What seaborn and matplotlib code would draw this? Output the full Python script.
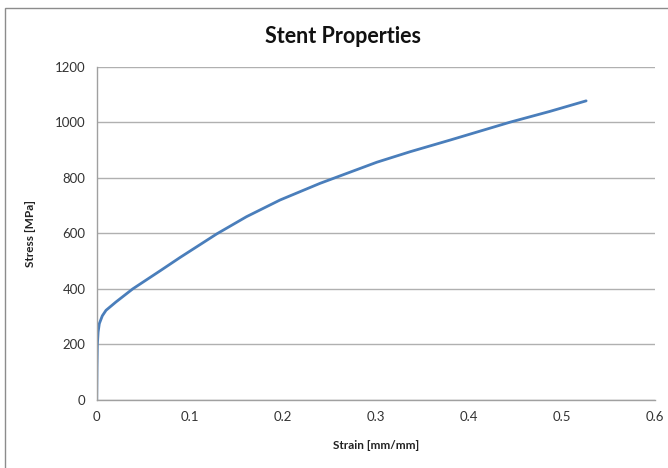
import matplotlib
matplotlib.use("Agg")
import matplotlib.pyplot as plt
from matplotlib.patches import Rectangle
import seaborn as sns
import pandas as pd

# values
strain = [0, 0.0003, 0.0007, 0.0015, 0.0028, 0.006, 0.010, 0.0207, 0.0387,
          0.069, 0.0895, 0.129, 0.161, 0.197, 0.240, 0.301, 0.337, 0.380,
          0.405, 0.444, 0.487, 0.526]
stress = [0, 120, 200, 245, 275, 303, 323, 353, 400,
          467, 513, 598, 660, 720, 780, 856, 894, 936,
          961, 1000, 1039, 1077]

x_ticks = [0, 0.1, 0.2, 0.3, 0.4, 0.5, 0.6]
x_labels = ["0", "0.1", "0.2", "0.3", "0.4", "0.5", "0.6"]
y_ticks = [0, 200, 400, 600, 800, 1000, 1200]
y_labels = ["0", "200", "400", "600", "800", "1000", "1200"]

sns.set_style("white")
plt.rcParams['font.family'] = ['Lato', 'DejaVu Sans']

df = pd.DataFrame({'Strain': strain, 'Stress': stress})

fig = plt.figure(figsize=(6.68, 4.68), dpi=100)
ax = fig.add_axes([0.1448, 0.1453, 0.9805 - 0.1448, 0.8575 - 0.1453])

sns.lineplot(data=df, x='Strain', y='Stress', sort=False, estimator=None,
             color='#4A7EBB', linewidth=2.0, ax=ax)

ax.set_xlim(0, 0.6)
ax.set_ylim(0, 1200)
ax.set_xticks(x_ticks, x_labels)
ax.set_yticks(y_ticks, y_labels)
ax.tick_params(length=0, labelsize=9.5, labelcolor='#333333', pad=8)
ax.yaxis.grid(True, color='#b0b0b0', linewidth=1)
ax.xaxis.grid(False)
for side in ['top', 'right']:
    ax.spines[side].set_visible(False)
for side in ['left', 'bottom']:
    ax.spines[side].set_color('#a0a0a0')
    ax.spines[side].set_linewidth(1)

ax.set_xlabel('Strain [mm/mm]', fontsize=8.5, fontweight='bold', color='#222222', labelpad=12)
ax.set_ylabel('Stress [MPa]', fontsize=8.5, fontweight='bold', color='#222222', labelpad=14)
fig.text(0.513, 0.922, 'Stent Properties', ha='center', va='center',
         fontsize=15.5, fontweight='bold', color='#111111')

# outer chart frame, cut off at right and bottom like the reference
fig.add_artist(Rectangle((5 / 668, -0.1), 1.2, (468 - 8) / 468 + 0.1,
                         transform=fig.transFigure, fill=False,
                         edgecolor='#8c8c8c', linewidth=1))

fig.savefig('out.png', dpi=100)
